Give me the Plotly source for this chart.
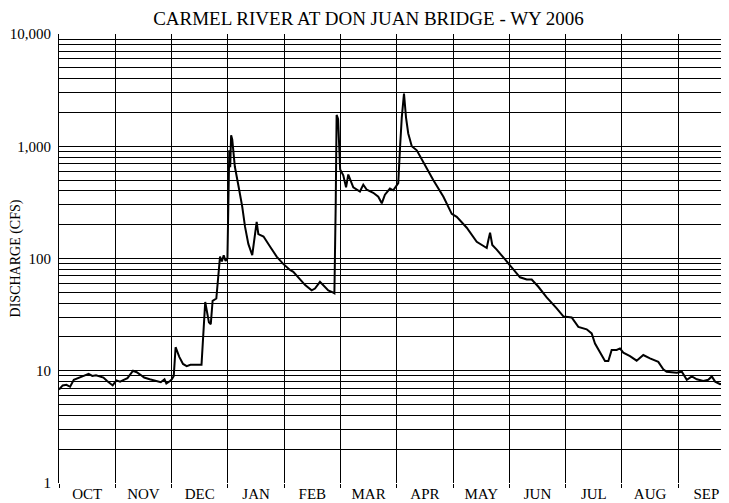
import plotly.graph_objects as go

# Daily discharge, Carmel River at Don Juan Bridge, water year 2006
# day = days since Oct 1 2005 (chart spaces months evenly, 365/12 days each)
day = [0, 2, 4, 6, 8, 10, 12, 14, 16, 18, 20, 22, 24, 26, 28, 29, 31, 33, 35, 37,
       40, 42, 44, 46, 49, 52, 55, 57, 58, 60, 61, 62, 63, 65, 67, 69, 71, 77,
       78, 79, 81, 82, 83, 85, 87, 88, 89, 90, 91, 91.6, 92, 92.5, 93, 93.6,
       94.2, 95, 97, 99, 100.5, 102.3, 104.4, 106, 106.8, 107.7, 109, 110.5,
       114, 117.6, 121, 124.8, 126.6, 130, 133, 136.5, 138.3, 141, 143, 145.5,
       148.2, 148.8, 149.5, 150, 150.8, 151.4, 151.9, 153.6, 155.1, 156.3,
       157.6, 159, 162.6, 164.4, 166.3, 169.8, 172.5, 174.4, 176.1, 178.8,
       180.6, 182.1, 183.3, 184.3, 185.2, 186.4, 187.5, 188.7, 190.6, 193.3,
       195.1, 197.8, 200.5, 202.2, 207.7, 212.2, 214.9, 220.3, 225.7, 228.4,
       231.1, 232, 232.9, 234.1, 236.5, 241, 245.5, 249.1, 252.7, 255.4, 259,
       263.5, 268.9, 272.5, 277, 280.6, 285.1, 287.8, 289.6, 291.4, 295, 296.8,
       298.6, 301.3, 303.1, 304.9, 308.5, 312.1, 315.7, 319.3, 323.8, 326.5,
       328.3, 333.8, 336.5, 339.2, 341.9, 344.6, 348.1, 350.8, 352.7, 354.5,
       357.2, 359.9, 362]
cfs = [6.8, 7.4, 7.5, 7.2, 8.3, 8.6, 8.8, 9.1, 9.4, 9.0, 9.1, 8.9, 8.7, 8.1, 7.6,
       7.4, 8.2, 8.0, 8.3, 8.6, 10.0, 9.7, 9.2, 8.7, 8.4, 8.1, 7.9, 8.4, 7.7, 8.1,
       8.4, 9.0, 16.2, 13.3, 11.5, 11.0, 11.3, 11.3, 24, 41, 27, 26, 42, 44, 104,
       94, 107, 95, 100, 600, 920, 650, 1250, 1150, 900, 660, 440, 290, 192, 135,
       107, 167, 212, 165, 162, 157, 128, 104, 90, 79, 76, 66, 58, 52, 54, 62,
       57, 52, 49.6, 49, 300, 1900, 1750, 1000, 620, 550, 430, 560, 490, 430,
       395, 455, 410, 385, 355, 310, 370, 420, 405, 440, 470, 1000, 1800, 2950,
       1800, 1300, 1000, 920, 810, 680, 550, 500, 355, 250, 235, 188, 141, 132,
       124, 146, 170, 132, 120, 98, 79, 68, 65, 65, 56, 45, 36, 30.5, 29.8, 24.6,
       23.4, 21.5, 17.5, 15.5, 12.2, 12.2, 15.3, 15.3, 15.8, 14.5, 13.5, 12.3,
       13.8, 12.9, 12.0, 10.3, 9.8, 9.6, 9.8, 8.3, 8.9, 8.4, 8.1, 8.3, 8.9, 8.0,
       7.6, 7.7, 8.0]

months = ["OCT", "NOV", "DEC", "JAN", "FEB", "MAR", "APR", "MAY", "JUN", "JUL", "AUG", "SEP"]
month_len = 365 / 12

# log grid: every 1..9 step in each decade, labels only on decades
ytick_vals = [m * 10 ** d for d in range(4) for m in range(1, 10)] + [10000]
decade_text = {1: "1", 10: "10", 100: "100", 1000: "1,000", 10000: "10,000"}
ytick_text = [decade_text.get(v, "") for v in ytick_vals]

serif = "Liberation Serif, Times New Roman, serif"

fig = go.Figure()
fig.add_trace(go.Scatter(x=day, y=cfs, mode="lines",
                         line=dict(color="black", width=2), showlegend=False))

# page body has an 8px margin, so the plot is shifted to line up with the window
fig.update_layout(
    width=721, height=500,
    margin=dict(l=51, r=0, t=26, b=25),
    paper_bgcolor="white", plot_bgcolor="white",
    title=dict(text="CARMEL RIVER AT DON JUAN BRIDGE - WY 2006",
               x=0.5, xref="container", xanchor="center",
               y=1 - 10 / 500, yref="container", yanchor="middle",
               font=dict(family=serif, size=19, color="black")),
    font=dict(family=serif, color="black"),
)

fig.update_xaxes(
    range=[0, 362], showgrid=False, zeroline=False,
    tickmode="array",
    tickvals=[(i + 0.5) * month_len for i in range(12)],
    ticktext=months, ticks="",
    tickfont=dict(family=serif, size=15, color="black"),
    ticklabelstandoff=0,
    showline=False,
    minor=dict(tickmode="linear", tick0=0, dtick=month_len,
               showgrid=True, gridcolor="black", gridwidth=1,
               ticks="outside", ticklen=4, tickcolor="black"),
    automargin=False,
)

fig.update_yaxes(
    type="log", range=[0, 4],
    tickmode="array", tickvals=ytick_vals, ticktext=ytick_text,
    showgrid=True, gridcolor="black", gridwidth=1,
    ticks="", zeroline=False,
    showline=True, linecolor="black", linewidth=1,
    tickfont=dict(family=serif, size=15, color="black"),
    ticklabelstandoff=4,
    title=dict(text="DISCHARGE (CFS)", standoff=8,
               font=dict(family=serif, size=14, color="black")),
    automargin=False,
)

fig.write_html("out.html")
